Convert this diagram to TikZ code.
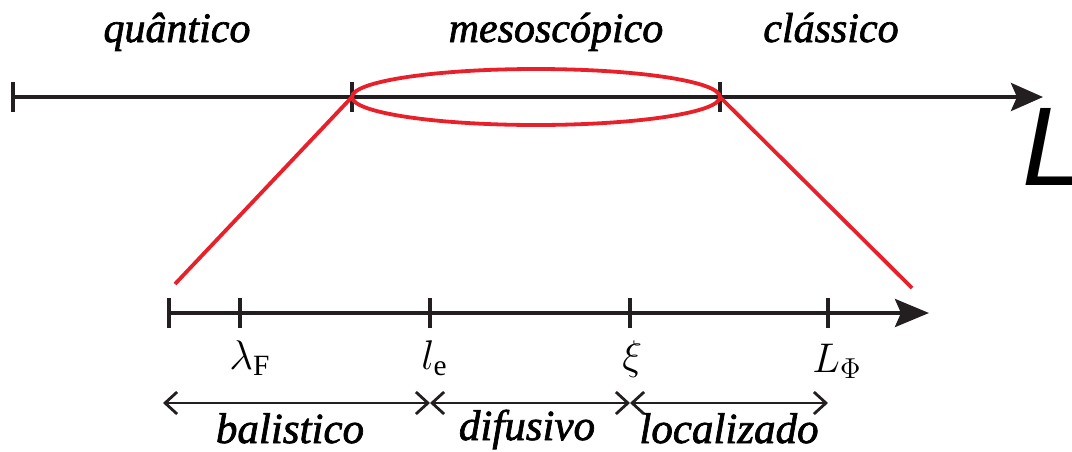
\documentclass[tikz,border=0pt]{standalone}
\usepackage{fontspec}
\setmainfont{Liberation Serif}
\newfontfamily\bigLfont{Liberation Sans}
\newfontface\labfont{Liberation Serif Italic}[FakeBold=1.6]
\usetikzlibrary{arrows.meta}
\definecolor{myred}{HTML}{E8202A}
\definecolor{myblack}{HTML}{231F20}
\tikzset{
  axisline/.style={line width=2pt, draw=myblack},
  tickmark/.style={line width=2pt, draw=myblack},
  redline/.style={line width=1.9pt, draw=myred},
  rangearrow/.style={line width=1.4pt, draw=myblack, {Straight Barb[length=6pt,width=11pt,line width=1.4pt]}-{Straight Barb[length=6pt,width=11pt,line width=1.4pt]}},
  toplabel/.style={font=\labfont\fontsize{21}{24}\selectfont, anchor=base, inner sep=0pt},
  botlabel/.style={font=\labfont\fontsize{21.5}{24}\selectfont, anchor=base, inner sep=0pt},
  mathlabel/.style={font=\fontsize{21}{24}\selectfont, anchor=base west, inner sep=0pt},
}
\begin{document}
\begin{tikzpicture}[x=0.5pt,y=-0.5pt]
\useasboundingbox (0,0) rectangle (1072,451);
% top axis
\coordinate (tA) at (13,97);
\coordinate (tB) at (352,97);
\coordinate (tC) at (720,97);
\coordinate (tEnd) at (1043,97);
\draw[axisline, -{Stealth[length=16pt,width=14pt,inset=3pt]}] (tA) -- (tEnd);
\foreach \c in {tA,tB,tC}{
  \draw[tickmark] ([yshift=7.5pt]\c) -- ([yshift=-7.5pt]\c);
}
\node[font=\bigLfont\itshape\fontsize{56}{60}\selectfont, anchor=base west, inner sep=0pt] (bigL) at (1022,185) {L};
% ellipse
\draw[redline] (536,97) ellipse [x radius=92pt, y radius=14pt];
% red lines
\coordinate (rL) at (175,284);
\coordinate (rR) at (912,288);
\draw[redline] (tB) -- (rL);
\draw[redline] (tC) -- (rR);
% top labels
\node[toplabel] (q) at (177,42) {quântico};
\node[toplabel] (m) at (556,42) {mesoscópico};
\node[toplabel] (c) at (831,42) {clássico};
% bottom axis
\coordinate (b0) at (169,313);
\coordinate (b1) at (240,313);
\coordinate (b2) at (430,313);
\coordinate (b3) at (630,313);
\coordinate (b4) at (828,313);
\coordinate (bEnd) at (929,313);
\draw[axisline, -{Stealth[length=17pt,width=14pt,inset=3pt]}] (b0) -- (bEnd);
\foreach \c in {b0,b1,b2,b3,b4}{
  \draw[tickmark] ([yshift=7.5pt]\c) -- ([yshift=-7.5pt]\c);
}
% math labels
\node[mathlabel] (lam) at (229,369) {$\lambda_{\mathrm{F}}$};
\node[mathlabel] (le) at (421,369) {$l_{\mathrm{e}}$};
\node[mathlabel] (xi) at (622,369) {$\xi$};
\node[mathlabel] (LP) at (812,372) {$L_{\Phi}$};
% range arrows
\coordinate (a0) at (163,403);
\coordinate (a1) at (430,403);
\coordinate (a2) at (630,403);
\coordinate (a3) at (828,403);
\draw[rangearrow] (a0) -- (a1);
\draw[rangearrow] (a1) -- (a2);
\draw[rangearrow] (a2) -- (a3);
\node[botlabel] (bal) at (290,443) {balistico};
\node[botlabel] (dif) at (527,440) {difusivo};
\node[botlabel] (loc) at (729,443) {localizado};
\end{tikzpicture}
\end{document}
